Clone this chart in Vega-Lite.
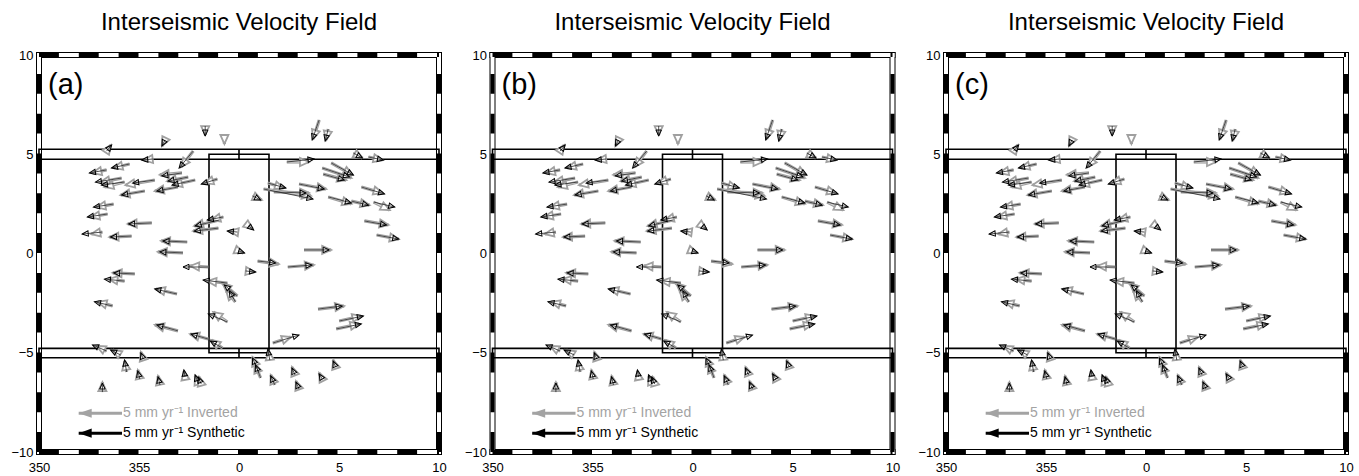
{
"$schema":"https://vega.github.io/schema/vega-lite/v6.json",
"padding":{"left":10,"top":11,"right":5,"bottom":5},
"background":"white",
"config":{"view":{"stroke":null},"font":"Liberation Sans","title":{"font":"Liberation Sans","fontSize":24,"fontWeight":"normal","color":"black","offset":14},"axis":{"grid":false,"domain":false,"ticks":false,"labelFontSize":13,"labelColor":"black","labelFont":"Liberation Sans","labelFlush":false,"labelOverlap":false}},
"datasets":{
"frame":[{"x":-10,"y":10,"x2":10,"y2":10},{"x":-10,"y":-10,"x2":10,"y2":-10},{"x":-10,"y":-10,"x2":-10,"y2":10},{"x":10,"y":-10,"x2":10,"y2":10}],
"boxes":[{"x":-10,"x2":10,"y":4.75,"y2":5.25},{"x":-10,"x2":10,"y":-5.25,"y2":-4.78},{"x":-1.5,"x2":1.5,"y":-5,"y2":5}],
"divs":[{"x":0,"y":4.75,"x2":0,"y2":5.25},{"x":0,"y":-5.25,"x2":0,"y2":-4.78}],
"lab":[{"p":"a","x":-9.55,"y":8.5,"label":"(a)"},{"p":"b","x":-9.55,"y":8.5,"label":"(b)"},{"p":"c","x":-9.55,"y":8.5,"label":"(c)"}],
"leg":[{"t":"i","x":-5.85,"y":-8.05,"ve":-5,"vn":0,"label":"5 mm yr⁻¹ Inverted"},{"t":"s","x":-5.85,"y":-9.05,"ve":-5,"vn":0,"label":"5 mm yr⁻¹ Synthetic"}],
"vec":[
{"t":"s","x":-6.62,"y":5.16,"ve":0.58,"vn":0.70},{"t":"i","x":-6.62,"y":5.16,"ve":0.47,"vn":0.70},
{"t":"s","x":-3.70,"y":5.72,"ve":-0.35,"vn":-0.70},{"t":"i","x":-3.70,"y":5.72,"ve":-0.35,"vn":-0.70},
{"t":"s","x":-1.69,"y":6.42,"ve":0,"vn":-1.16},{"t":"i","x":-1.69,"y":6.42,"ve":0,"vn":-1.05},
{"t":"i","x":-0.73,"y":5.92,"ve":0,"vn":-0.93},
{"t":"s","x":-2.29,"y":5.16,"ve":-1.63,"vn":-1.98},{"t":"i","x":-2.29,"y":5.16,"ve":-1.40,"vn":-1.86},
{"t":"s","x":-4.31,"y":4.76,"ve":-1.28,"vn":-0.12},{"t":"i","x":-4.31,"y":4.76,"ve":-1.05,"vn":-0.12},
{"t":"s","x":-6.62,"y":4.21,"ve":-1.98,"vn":-0.35},{"t":"i","x":-6.62,"y":4.21,"ve":-1.63,"vn":-0.35},
{"t":"s","x":-5.47,"y":4.51,"ve":-2.09,"vn":-0.47},{"t":"i","x":-5.47,"y":4.51,"ve":-1.86,"vn":-0.47},
{"t":"s","x":-5.87,"y":3.80,"ve":-3.02,"vn":-0.47},{"t":"i","x":-5.87,"y":3.80,"ve":-2.44,"vn":-0.47},
{"t":"s","x":-5.72,"y":3.60,"ve":-2.67,"vn":-0.35},{"t":"i","x":-5.72,"y":3.60,"ve":-2.33,"vn":-0.58},
{"t":"s","x":-4.21,"y":3.70,"ve":-2.56,"vn":-0.35},{"t":"i","x":-4.21,"y":3.70,"ve":-3.37,"vn":-0.58},
{"t":"s","x":-4.71,"y":3.15,"ve":-2.67,"vn":-0.47},{"t":"i","x":-4.71,"y":3.15,"ve":-2.79,"vn":-0.47},
{"t":"s","x":-2.85,"y":4.06,"ve":-2.33,"vn":-0.35},{"t":"i","x":-2.85,"y":4.06,"ve":-2.56,"vn":-0.23},
{"t":"s","x":-2.54,"y":3.85,"ve":-2.33,"vn":-0.47},{"t":"i","x":-2.54,"y":3.85,"ve":-2.44,"vn":-0.47},
{"t":"s","x":-2.19,"y":3.70,"ve":-2.67,"vn":-0.58},{"t":"i","x":-2.19,"y":3.70,"ve":-2.56,"vn":-0.58},
{"t":"s","x":-3.05,"y":3.35,"ve":-2.44,"vn":-0.47},{"t":"i","x":-3.05,"y":3.35,"ve":-2.67,"vn":-0.47},
{"t":"s","x":-1.08,"y":3.75,"ve":-1.86,"vn":-0.58},{"t":"i","x":-1.08,"y":3.75,"ve":-1.51,"vn":-0.47},
{"t":"s","x":-6.27,"y":2.49,"ve":-2.33,"vn":-0.35},{"t":"i","x":-6.27,"y":2.49,"ve":-1.98,"vn":-0.35},
{"t":"s","x":-6.57,"y":1.99,"ve":-2.33,"vn":-0.35},{"t":"i","x":-6.57,"y":1.99,"ve":-1.98,"vn":-0.35},
{"t":"s","x":-4.36,"y":1.54,"ve":-2.67,"vn":-0.12},{"t":"i","x":-4.36,"y":1.54,"ve":-2.79,"vn":-0.12},
{"t":"s","x":-6.83,"y":1.08,"ve":-2.33,"vn":-0.23},{"t":"i","x":-6.83,"y":1.08,"ve":-1.28,"vn":-0.23},
{"t":"s","x":-5.37,"y":0.88,"ve":-2.44,"vn":-0.12},{"t":"i","x":-5.37,"y":0.88,"ve":-2.56,"vn":-0.12},
{"t":"s","x":-2.59,"y":0.58,"ve":-2.79,"vn":0.12},{"t":"i","x":-2.59,"y":0.58,"ve":-3.02,"vn":0.12},
{"t":"s","x":-2.80,"y":0.03,"ve":-2.67,"vn":0.12},{"t":"i","x":-2.80,"y":0.03,"ve":-2.91,"vn":0.12},
{"t":"s","x":-1.54,"y":-0.68,"ve":-2.91,"vn":0},{"t":"i","x":-1.54,"y":-0.68,"ve":-2.09,"vn":0.12},
{"t":"s","x":-5.21,"y":-1.03,"ve":-2.44,"vn":0.12},{"t":"i","x":-5.21,"y":-1.03,"ve":-2.56,"vn":0.12},
{"t":"s","x":-5.72,"y":-1.39,"ve":-2.33,"vn":0.23},{"t":"i","x":-5.72,"y":-1.39,"ve":-1.86,"vn":0.23},
{"t":"s","x":-3.10,"y":-2.04,"ve":-2.56,"vn":0.58},{"t":"i","x":-3.10,"y":-2.04,"ve":-2.44,"vn":0.58},
{"t":"s","x":-6.32,"y":-2.64,"ve":-2.09,"vn":0.47},{"t":"i","x":-6.32,"y":-2.64,"ve":-1.74,"vn":0.47},
{"t":"s","x":-3.05,"y":-3.90,"ve":-2.44,"vn":0.70},{"t":"i","x":-3.05,"y":-3.90,"ve":-2.67,"vn":0.70},
{"t":"s","x":-0.78,"y":1.84,"ve":-1.86,"vn":-0.35},{"t":"i","x":-0.78,"y":1.84,"ve":-1.40,"vn":-0.35},
{"t":"s","x":-0.98,"y":1.69,"ve":-2.79,"vn":-0.70},{"t":"i","x":-0.98,"y":1.69,"ve":-2.91,"vn":-0.70},
{"t":"s","x":-1.03,"y":1.28,"ve":-2.79,"vn":-0.35},{"t":"i","x":-1.03,"y":1.28,"ve":-2.91,"vn":-0.35},
{"t":"s","x":-0.08,"y":1.08,"ve":-1.16,"vn":0.12},{"t":"i","x":-0.08,"y":1.08,"ve":-0.93,"vn":0.12},
{"t":"s","x":0.48,"y":1.39,"ve":0.58,"vn":-0.47},{"t":"i","x":0.48,"y":1.39,"ve":0.47,"vn":-0.35},
{"t":"s","x":-0.03,"y":0.13,"ve":0.70,"vn":-0.23},{"t":"i","x":-0.03,"y":0.13,"ve":0.58,"vn":-0.23},
{"t":"s","x":0.93,"y":-0.38,"ve":2.09,"vn":-0.23},{"t":"i","x":0.93,"y":-0.38,"ve":2.44,"vn":-0.35},
{"t":"s","x":0.33,"y":-0.88,"ve":1.16,"vn":-0.12},{"t":"i","x":0.33,"y":-0.88,"ve":1.05,"vn":-0.12},
{"t":"s","x":2.44,"y":-0.68,"ve":2.79,"vn":0.23},{"t":"i","x":2.44,"y":-0.68,"ve":3.02,"vn":0.23},
{"t":"s","x":-0.58,"y":-1.49,"ve":-2.79,"vn":0.35},{"t":"i","x":-0.58,"y":-1.49,"ve":-2.33,"vn":0.23},
{"t":"s","x":-0.08,"y":-2.14,"ve":-1.51,"vn":1.28},{"t":"i","x":-0.08,"y":-2.14,"ve":-1.74,"vn":1.51},
{"t":"s","x":-0.18,"y":-2.44,"ve":-0.70,"vn":1.28},{"t":"i","x":-0.18,"y":-2.44,"ve":-1.05,"vn":1.28},
{"t":"s","x":-0.58,"y":-3.45,"ve":-2.21,"vn":0.93},{"t":"i","x":-0.58,"y":-3.45,"ve":-1.63,"vn":1.16},
{"t":"s","x":-1.54,"y":-4.31,"ve":-1.98,"vn":0.58},{"t":"i","x":-1.54,"y":-4.31,"ve":-2.09,"vn":0.58},
{"t":"s","x":-0.83,"y":-4.76,"ve":-1.40,"vn":0.81},{"t":"i","x":-0.83,"y":-4.76,"ve":-1.28,"vn":0.93},
{"t":"s","x":1.54,"y":-5.37,"ve":-0.23,"vn":1.28},{"t":"i","x":1.54,"y":-5.37,"ve":-0.12,"vn":1.05},
{"t":"s","x":1.69,"y":-4.51,"ve":3.02,"vn":0.93},{"t":"i","x":1.69,"y":-4.51,"ve":2.09,"vn":0.70},
{"t":"s","x":0.98,"y":-5.97,"ve":-0.70,"vn":1.63},{"t":"i","x":0.98,"y":-5.97,"ve":-0.70,"vn":1.74},
{"t":"s","x":1.08,"y":-6.27,"ve":-0.58,"vn":1.51},{"t":"i","x":1.08,"y":-6.27,"ve":-0.70,"vn":1.63},
{"t":"s","x":1.79,"y":-6.62,"ve":-0.47,"vn":1.05},{"t":"i","x":1.79,"y":-6.62,"ve":-0.47,"vn":1.16},
{"t":"s","x":2.80,"y":-6.12,"ve":-0.35,"vn":0.81},{"t":"i","x":2.80,"y":-6.12,"ve":-0.35,"vn":0.93},
{"t":"s","x":3.00,"y":-6.83,"ve":-0.35,"vn":0.81},{"t":"i","x":3.00,"y":-6.83,"ve":-0.35,"vn":0.93},
{"t":"s","x":4.16,"y":-6.32,"ve":-0.35,"vn":0.58},{"t":"i","x":4.16,"y":-6.32,"ve":-0.35,"vn":0.70},
{"t":"s","x":4.81,"y":-5.67,"ve":-0.23,"vn":0.58},{"t":"i","x":4.81,"y":-5.67,"ve":-0.23,"vn":0.70},
{"t":"s","x":5.01,"y":-3.40,"ve":2.79,"vn":0.58},{"t":"i","x":5.01,"y":-3.40,"ve":2.56,"vn":0.58},
{"t":"s","x":4.86,"y":-3.80,"ve":2.91,"vn":0.58},{"t":"i","x":4.86,"y":-3.80,"ve":2.67,"vn":0.58},
{"t":"s","x":3.95,"y":-2.80,"ve":2.79,"vn":0.35},{"t":"i","x":3.95,"y":-2.80,"ve":3.02,"vn":0.35},
{"t":"s","x":-6.62,"y":-4.91,"ve":-1.63,"vn":0.70},{"t":"i","x":-6.62,"y":-4.91,"ve":-1.16,"vn":0.58},
{"t":"s","x":-5.92,"y":-5.11,"ve":-1.16,"vn":0.58},{"t":"i","x":-5.92,"y":-5.11,"ve":-0.93,"vn":0.58},
{"t":"s","x":-4.81,"y":-5.26,"ve":-0.23,"vn":0.58},{"t":"i","x":-4.81,"y":-5.26,"ve":-0.23,"vn":0.70},
{"t":"s","x":-5.62,"y":-5.97,"ve":-0.23,"vn":1.40},{"t":"i","x":-5.62,"y":-5.97,"ve":-0.23,"vn":1.28},
{"t":"s","x":-4.96,"y":-6.32,"ve":-0.23,"vn":0.93},{"t":"i","x":-4.96,"y":-6.32,"ve":-0.23,"vn":1.05},
{"t":"s","x":-3.95,"y":-6.62,"ve":-0.23,"vn":0.93},{"t":"i","x":-3.95,"y":-6.62,"ve":-0.23,"vn":1.05},
{"t":"s","x":-2.70,"y":-6.22,"ve":-0.12,"vn":0.81},{"t":"i","x":-2.70,"y":-6.22,"ve":-0.12,"vn":0.70},
{"t":"s","x":-2.04,"y":-6.57,"ve":-0.35,"vn":1.05},{"t":"i","x":-2.04,"y":-6.57,"ve":-0.35,"vn":0.93},
{"t":"s","x":-1.89,"y":-6.57,"ve":-0.35,"vn":0.81},{"t":"i","x":-1.89,"y":-6.57,"ve":-0.23,"vn":0.81},
{"t":"s","x":-6.83,"y":-6.98,"ve":0,"vn":1.05},{"t":"i","x":-6.83,"y":-6.98,"ve":0,"vn":1.16},
{"t":"s","x":0.68,"y":2.90,"ve":0.93,"vn":-0.47},{"t":"i","x":0.68,"y":2.90,"ve":1.05,"vn":-0.47},
{"t":"s","x":3.25,"y":0.18,"ve":2.91,"vn":0},{"t":"i","x":3.25,"y":0.18,"ve":3.14,"vn":0},
{"t":"s","x":6.27,"y":1.64,"ve":2.56,"vn":-0.47},{"t":"i","x":6.27,"y":1.64,"ve":2.79,"vn":-0.47},
{"t":"s","x":6.88,"y":0.93,"ve":2.56,"vn":-0.47},{"t":"i","x":6.88,"y":0.93,"ve":2.56,"vn":-0.47},
{"t":"s","x":2.39,"y":4.61,"ve":3.14,"vn":0.35},{"t":"i","x":2.39,"y":4.61,"ve":2.56,"vn":0},
{"t":"s","x":4.61,"y":4.56,"ve":2.56,"vn":-1.40},{"t":"i","x":4.61,"y":4.56,"ve":2.44,"vn":-1.40},
{"t":"s","x":4.16,"y":4.31,"ve":3.14,"vn":-1.05},{"t":"i","x":4.16,"y":4.31,"ve":3.37,"vn":-1.16},
{"t":"s","x":4.21,"y":4.00,"ve":2.44,"vn":-0.70},{"t":"i","x":4.21,"y":4.00,"ve":2.67,"vn":-0.70},
{"t":"s","x":5.72,"y":5.06,"ve":1.05,"vn":-0.58},{"t":"i","x":5.72,"y":5.06,"ve":1.05,"vn":-0.58},
{"t":"s","x":6.47,"y":4.86,"ve":1.74,"vn":-0.35},{"t":"i","x":6.47,"y":4.86,"ve":1.63,"vn":-0.35},
{"t":"s","x":1.44,"y":3.55,"ve":2.09,"vn":-0.58},{"t":"i","x":1.44,"y":3.55,"ve":1.86,"vn":-0.58},
{"t":"s","x":1.23,"y":3.25,"ve":5.70,"vn":-1.16},{"t":"i","x":1.23,"y":3.25,"ve":5.47,"vn":-0.81},
{"t":"s","x":1.74,"y":3.10,"ve":3.72,"vn":-0.12},{"t":"i","x":1.74,"y":3.10,"ve":4.07,"vn":-0.12},
{"t":"s","x":3.00,"y":3.50,"ve":2.91,"vn":-0.58},{"t":"i","x":3.00,"y":3.50,"ve":3.14,"vn":-0.58},
{"t":"s","x":6.12,"y":3.35,"ve":2.67,"vn":-0.81},{"t":"i","x":6.12,"y":3.35,"ve":2.44,"vn":-0.70},
{"t":"s","x":4.46,"y":2.85,"ve":2.67,"vn":-0.70},{"t":"i","x":4.46,"y":2.85,"ve":2.67,"vn":-0.81},
{"t":"s","x":5.62,"y":2.64,"ve":1.98,"vn":-0.47},{"t":"i","x":5.62,"y":2.64,"ve":2.09,"vn":-0.47},
{"t":"s","x":6.73,"y":2.59,"ve":2.44,"vn":-0.58},{"t":"i","x":6.73,"y":2.59,"ve":1.86,"vn":-0.93},
{"t":"s","x":4.01,"y":6.73,"ve":-0.81,"vn":-2.33},{"t":"i","x":4.01,"y":6.73,"ve":-0.70,"vn":-2.21},
{"t":"s","x":4.46,"y":6.27,"ve":-0.35,"vn":-1.40},{"t":"i","x":4.46,"y":6.27,"ve":-0.23,"vn":-1.28}
]},
"hconcat":[
{"title":"Interseismic Velocity Field","width":400,"height":397,
"encoding":{"x":{"field":"x","type":"quantitative","scale":{"domain":[-10,10],"nice":false,"zero":false},"axis":{"values":[-10,-5,0,5,10],"labelExpr":"datum.value < 0 ? datum.value + 360 : datum.value","labelPadding":9,"title":null}},"y":{"field":"y","type":"quantitative","scale":{"domain":[-10,10],"nice":false,"zero":false},"axis":{"values":[-10,-5,0,5,10],"labelPadding":6,"title":null}}},
"layer":[
{"data":{"name":"frame"},"mark":{"type":"rule","color":"black","strokeWidth":6,"strokeCap":"square"},"encoding":{"x2":{"field":"x2"},"y2":{"field":"y2"}}},
{"data":{"name":"frame"},"mark":{"type":"rule","color":"white","strokeWidth":4,"strokeCap":"square"},"encoding":{"x2":{"field":"x2"},"y2":{"field":"y2"}}},
{"data":{"name":"frame"},"mark":{"type":"rule","color":"black","strokeWidth":4,"strokeDash":[19.9,19.9]},"encoding":{"x2":{"field":"x2"},"y2":{"field":"y2"}}},
{"data":{"name":"boxes"},"mark":{"type":"rect","filled":false,"color":"black","strokeWidth":1.6},"encoding":{"x2":{"field":"x2"},"y2":{"field":"y2"}}},
{"data":{"name":"divs"},"mark":{"type":"rule","color":"black","strokeWidth":1.6},"encoding":{"x2":{"field":"x2"},"y2":{"field":"y2"}}},
{"data":{"name":"vec"},"transform":[{"filter":"datum.t=='i'"},{"calculate":"datum.x+datum.ve*0.433","as":"x2"},{"calculate":"datum.y+datum.vn*0.433","as":"y2"}],"mark":{"type":"rule","color":"#a0a0a0","strokeWidth":3.2},"encoding":{"x2":{"field":"x2"},"y2":{"field":"y2"}}},
{"data":{"name":"vec"},"transform":[{"filter":"datum.t=='i'"},{"calculate":"datum.x+datum.ve*0.433","as":"x2"},{"calculate":"datum.y+datum.vn*0.433","as":"y2"}],"mark":{"type":"rule","color":"#e2e2e2","strokeWidth":0.9},"encoding":{"x2":{"field":"x2"},"y2":{"field":"y2"}}},
{"data":{"name":"vec"},"transform":[{"filter":"datum.t=='i'"},{"calculate":"atan2(datum.ve,datum.vn)*180/PI","as":"ang"},{"calculate":"datum.x+datum.ve*0.433","as":"x"},{"calculate":"datum.y+datum.vn*0.433","as":"y"}],"mark":{"type":"point","shape":"M0,0L0.45,1L-0.45,1Z","size":324,"filled":true,"fill":"white","stroke":"#a0a0a0","strokeWidth":1.8,"opacity":1},"encoding":{"angle":{"field":"ang","type":"quantitative","scale":null}}},
{"data":{"name":"vec"},"transform":[{"filter":"datum.t=='s'"},{"calculate":"datum.x+datum.ve*0.433","as":"x2"},{"calculate":"datum.y+datum.vn*0.433","as":"y2"}],"mark":{"type":"rule","color":"#222222","strokeWidth":0.8},"encoding":{"x2":{"field":"x2"},"y2":{"field":"y2"}}},
{"data":{"name":"vec"},"transform":[{"filter":"datum.t=='s'"},{"calculate":"atan2(datum.ve,datum.vn)*180/PI","as":"ang"},{"calculate":"datum.x+datum.ve*0.433","as":"x"},{"calculate":"datum.y+datum.vn*0.433","as":"y"}],"mark":{"type":"point","shape":"M0,0L0.45,1L-0.45,1Z","size":144,"filled":false,"stroke":"black","strokeWidth":1,"opacity":1},"encoding":{"angle":{"field":"ang","type":"quantitative","scale":null}}},
{"data":{"name":"leg"},"transform":[{"calculate":"datum.x+datum.ve*0.433","as":"x2"},{"calculate":"datum.y+datum.vn*0.433","as":"y2"}],"mark":{"type":"rule","strokeWidth":3},"encoding":{"x2":{"field":"x2"},"y2":{"field":"y2"},"color":{"field":"t","type":"nominal","scale":{"domain":["i","s"],"range":["#a3a3a3","black"]},"legend":null}}},
{"data":{"name":"leg"},"transform":[{"calculate":"atan2(datum.ve,datum.vn)*180/PI","as":"ang"},{"calculate":"datum.x+datum.ve*0.433","as":"x"},{"calculate":"datum.y+datum.vn*0.433","as":"y"}],"mark":{"type":"point","shape":"M0,0L0.35,1L-0.35,1Z","size":676,"filled":true,"opacity":1,"strokeWidth":0},"encoding":{"angle":{"field":"ang","type":"quantitative","scale":null},"color":{"field":"t","type":"nominal","scale":{"domain":["i","s"],"range":["#a3a3a3","black"]},"legend":null}}},
{"data":{"name":"leg"},"mark":{"type":"text","align":"left","baseline":"middle","fontSize":14,"dx":1},"encoding":{"text":{"field":"label"},"color":{"field":"t","type":"nominal","scale":{"domain":["i","s"],"range":["#a3a3a3","black"]},"legend":null}}},
{"data":{"name":"lab"},"transform":[{"filter":"datum.p=='a'"}],"mark":{"type":"text","align":"left","baseline":"middle","fontSize":29,"color":"black"},"encoding":{"text":{"field":"label"}}}
]},
{"title":"Interseismic Velocity Field","width":400,"height":397,
"encoding":{"x":{"field":"x","type":"quantitative","scale":{"domain":[-10,10],"nice":false,"zero":false},"axis":{"values":[-10,-5,0,5,10],"labelExpr":"datum.value < 0 ? datum.value + 360 : datum.value","labelPadding":9,"title":null}},"y":{"field":"y","type":"quantitative","scale":{"domain":[-10,10],"nice":false,"zero":false},"axis":{"values":[-10,-5,0,5,10],"labelPadding":6,"title":null}}},
"layer":[
{"data":{"name":"frame"},"mark":{"type":"rule","color":"black","strokeWidth":6,"strokeCap":"square"},"encoding":{"x2":{"field":"x2"},"y2":{"field":"y2"}}},
{"data":{"name":"frame"},"mark":{"type":"rule","color":"white","strokeWidth":4,"strokeCap":"square"},"encoding":{"x2":{"field":"x2"},"y2":{"field":"y2"}}},
{"data":{"name":"frame"},"mark":{"type":"rule","color":"black","strokeWidth":4,"strokeDash":[19.9,19.9]},"encoding":{"x2":{"field":"x2"},"y2":{"field":"y2"}}},
{"data":{"name":"boxes"},"mark":{"type":"rect","filled":false,"color":"black","strokeWidth":1.6},"encoding":{"x2":{"field":"x2"},"y2":{"field":"y2"}}},
{"data":{"name":"divs"},"mark":{"type":"rule","color":"black","strokeWidth":1.6},"encoding":{"x2":{"field":"x2"},"y2":{"field":"y2"}}},
{"data":{"name":"vec"},"transform":[{"filter":"datum.t=='i'"},{"calculate":"datum.x+datum.ve*0.433","as":"x2"},{"calculate":"datum.y+datum.vn*0.433","as":"y2"}],"mark":{"type":"rule","color":"#a0a0a0","strokeWidth":3.2},"encoding":{"x2":{"field":"x2"},"y2":{"field":"y2"}}},
{"data":{"name":"vec"},"transform":[{"filter":"datum.t=='i'"},{"calculate":"datum.x+datum.ve*0.433","as":"x2"},{"calculate":"datum.y+datum.vn*0.433","as":"y2"}],"mark":{"type":"rule","color":"#e2e2e2","strokeWidth":0.9},"encoding":{"x2":{"field":"x2"},"y2":{"field":"y2"}}},
{"data":{"name":"vec"},"transform":[{"filter":"datum.t=='i'"},{"calculate":"atan2(datum.ve,datum.vn)*180/PI","as":"ang"},{"calculate":"datum.x+datum.ve*0.433","as":"x"},{"calculate":"datum.y+datum.vn*0.433","as":"y"}],"mark":{"type":"point","shape":"M0,0L0.45,1L-0.45,1Z","size":324,"filled":true,"fill":"white","stroke":"#a0a0a0","strokeWidth":1.8,"opacity":1},"encoding":{"angle":{"field":"ang","type":"quantitative","scale":null}}},
{"data":{"name":"vec"},"transform":[{"filter":"datum.t=='s'"},{"calculate":"datum.x+datum.ve*0.433","as":"x2"},{"calculate":"datum.y+datum.vn*0.433","as":"y2"}],"mark":{"type":"rule","color":"#222222","strokeWidth":0.8},"encoding":{"x2":{"field":"x2"},"y2":{"field":"y2"}}},
{"data":{"name":"vec"},"transform":[{"filter":"datum.t=='s'"},{"calculate":"atan2(datum.ve,datum.vn)*180/PI","as":"ang"},{"calculate":"datum.x+datum.ve*0.433","as":"x"},{"calculate":"datum.y+datum.vn*0.433","as":"y"}],"mark":{"type":"point","shape":"M0,0L0.45,1L-0.45,1Z","size":144,"filled":false,"stroke":"black","strokeWidth":1,"opacity":1},"encoding":{"angle":{"field":"ang","type":"quantitative","scale":null}}},
{"data":{"name":"leg"},"transform":[{"calculate":"datum.x+datum.ve*0.433","as":"x2"},{"calculate":"datum.y+datum.vn*0.433","as":"y2"}],"mark":{"type":"rule","strokeWidth":3},"encoding":{"x2":{"field":"x2"},"y2":{"field":"y2"},"color":{"field":"t","type":"nominal","scale":{"domain":["i","s"],"range":["#a3a3a3","black"]},"legend":null}}},
{"data":{"name":"leg"},"transform":[{"calculate":"atan2(datum.ve,datum.vn)*180/PI","as":"ang"},{"calculate":"datum.x+datum.ve*0.433","as":"x"},{"calculate":"datum.y+datum.vn*0.433","as":"y"}],"mark":{"type":"point","shape":"M0,0L0.35,1L-0.35,1Z","size":676,"filled":true,"opacity":1,"strokeWidth":0},"encoding":{"angle":{"field":"ang","type":"quantitative","scale":null},"color":{"field":"t","type":"nominal","scale":{"domain":["i","s"],"range":["#a3a3a3","black"]},"legend":null}}},
{"data":{"name":"leg"},"mark":{"type":"text","align":"left","baseline":"middle","fontSize":14,"dx":1},"encoding":{"text":{"field":"label"},"color":{"field":"t","type":"nominal","scale":{"domain":["i","s"],"range":["#a3a3a3","black"]},"legend":null}}},
{"data":{"name":"lab"},"transform":[{"filter":"datum.p=='b'"}],"mark":{"type":"text","align":"left","baseline":"middle","fontSize":29,"color":"black"},"encoding":{"text":{"field":"label"}}}
]},
{"title":"Interseismic Velocity Field","width":400,"height":397,
"encoding":{"x":{"field":"x","type":"quantitative","scale":{"domain":[-10,10],"nice":false,"zero":false},"axis":{"values":[-10,-5,0,5,10],"labelExpr":"datum.value < 0 ? datum.value + 360 : datum.value","labelPadding":9,"title":null}},"y":{"field":"y","type":"quantitative","scale":{"domain":[-10,10],"nice":false,"zero":false},"axis":{"values":[-10,-5,0,5,10],"labelPadding":6,"title":null}}},
"layer":[
{"data":{"name":"frame"},"mark":{"type":"rule","color":"black","strokeWidth":6,"strokeCap":"square"},"encoding":{"x2":{"field":"x2"},"y2":{"field":"y2"}}},
{"data":{"name":"frame"},"mark":{"type":"rule","color":"white","strokeWidth":4,"strokeCap":"square"},"encoding":{"x2":{"field":"x2"},"y2":{"field":"y2"}}},
{"data":{"name":"frame"},"mark":{"type":"rule","color":"black","strokeWidth":4,"strokeDash":[19.9,19.9]},"encoding":{"x2":{"field":"x2"},"y2":{"field":"y2"}}},
{"data":{"name":"boxes"},"mark":{"type":"rect","filled":false,"color":"black","strokeWidth":1.6},"encoding":{"x2":{"field":"x2"},"y2":{"field":"y2"}}},
{"data":{"name":"divs"},"mark":{"type":"rule","color":"black","strokeWidth":1.6},"encoding":{"x2":{"field":"x2"},"y2":{"field":"y2"}}},
{"data":{"name":"vec"},"transform":[{"filter":"datum.t=='i'"},{"calculate":"datum.x+datum.ve*0.433","as":"x2"},{"calculate":"datum.y+datum.vn*0.433","as":"y2"}],"mark":{"type":"rule","color":"#a0a0a0","strokeWidth":3.2},"encoding":{"x2":{"field":"x2"},"y2":{"field":"y2"}}},
{"data":{"name":"vec"},"transform":[{"filter":"datum.t=='i'"},{"calculate":"datum.x+datum.ve*0.433","as":"x2"},{"calculate":"datum.y+datum.vn*0.433","as":"y2"}],"mark":{"type":"rule","color":"#e2e2e2","strokeWidth":0.9},"encoding":{"x2":{"field":"x2"},"y2":{"field":"y2"}}},
{"data":{"name":"vec"},"transform":[{"filter":"datum.t=='i'"},{"calculate":"atan2(datum.ve,datum.vn)*180/PI","as":"ang"},{"calculate":"datum.x+datum.ve*0.433","as":"x"},{"calculate":"datum.y+datum.vn*0.433","as":"y"}],"mark":{"type":"point","shape":"M0,0L0.45,1L-0.45,1Z","size":324,"filled":true,"fill":"white","stroke":"#a0a0a0","strokeWidth":1.8,"opacity":1},"encoding":{"angle":{"field":"ang","type":"quantitative","scale":null}}},
{"data":{"name":"vec"},"transform":[{"filter":"datum.t=='s'"},{"calculate":"datum.x+datum.ve*0.433","as":"x2"},{"calculate":"datum.y+datum.vn*0.433","as":"y2"}],"mark":{"type":"rule","color":"#222222","strokeWidth":0.8},"encoding":{"x2":{"field":"x2"},"y2":{"field":"y2"}}},
{"data":{"name":"vec"},"transform":[{"filter":"datum.t=='s'"},{"calculate":"atan2(datum.ve,datum.vn)*180/PI","as":"ang"},{"calculate":"datum.x+datum.ve*0.433","as":"x"},{"calculate":"datum.y+datum.vn*0.433","as":"y"}],"mark":{"type":"point","shape":"M0,0L0.45,1L-0.45,1Z","size":144,"filled":false,"stroke":"black","strokeWidth":1,"opacity":1},"encoding":{"angle":{"field":"ang","type":"quantitative","scale":null}}},
{"data":{"name":"leg"},"transform":[{"calculate":"datum.x+datum.ve*0.433","as":"x2"},{"calculate":"datum.y+datum.vn*0.433","as":"y2"}],"mark":{"type":"rule","strokeWidth":3},"encoding":{"x2":{"field":"x2"},"y2":{"field":"y2"},"color":{"field":"t","type":"nominal","scale":{"domain":["i","s"],"range":["#a3a3a3","black"]},"legend":null}}},
{"data":{"name":"leg"},"transform":[{"calculate":"atan2(datum.ve,datum.vn)*180/PI","as":"ang"},{"calculate":"datum.x+datum.ve*0.433","as":"x"},{"calculate":"datum.y+datum.vn*0.433","as":"y"}],"mark":{"type":"point","shape":"M0,0L0.35,1L-0.35,1Z","size":676,"filled":true,"opacity":1,"strokeWidth":0},"encoding":{"angle":{"field":"ang","type":"quantitative","scale":null},"color":{"field":"t","type":"nominal","scale":{"domain":["i","s"],"range":["#a3a3a3","black"]},"legend":null}}},
{"data":{"name":"leg"},"mark":{"type":"text","align":"left","baseline":"middle","fontSize":14,"dx":1},"encoding":{"text":{"field":"label"},"color":{"field":"t","type":"nominal","scale":{"domain":["i","s"],"range":["#a3a3a3","black"]},"legend":null}}},
{"data":{"name":"lab"},"transform":[{"filter":"datum.p=='c'"}],"mark":{"type":"text","align":"left","baseline":"middle","fontSize":29,"color":"black"},"encoding":{"text":{"field":"label"}}}
]}
],
"spacing":53.5,
"bounds":"flush"
}
